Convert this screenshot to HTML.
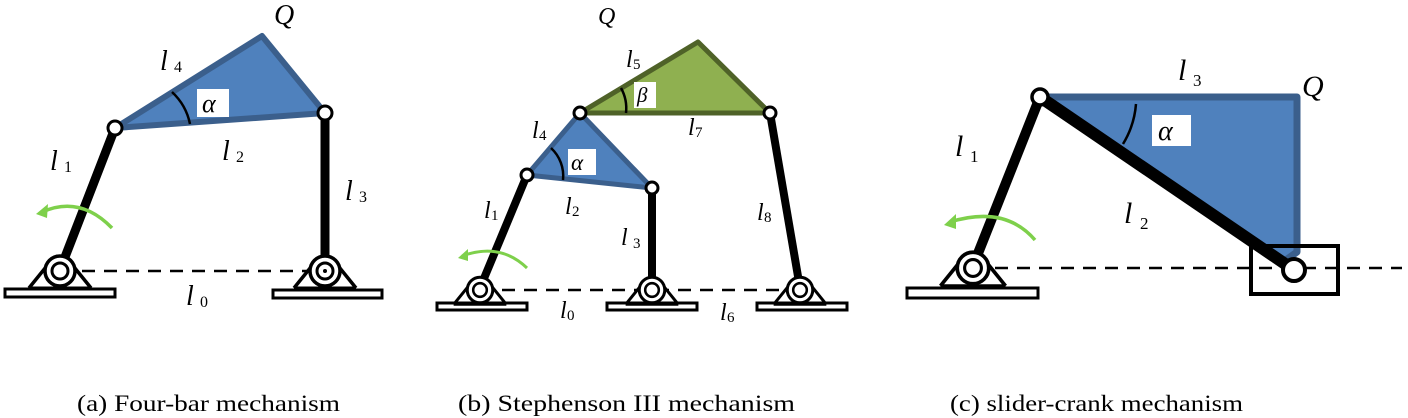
<!DOCTYPE html>
<html><head><meta charset="utf-8"><style>
html,body{margin:0;padding:0;background:#fff;}
svg{display:block}
svg text{font-family:"Liberation Serif","Times New Roman",Times,serif;}
</style></head><body>
<svg width="1408" height="418" viewBox="0 0 1408 418" xmlns="http://www.w3.org/2000/svg" font-family="Liberation Serif, Times New Roman, serif">
<defs>
<g id="piv">
  <path d="M-31,17 L-14,-4 M31,17 L14,-4" stroke="#000" stroke-width="3.5" fill="none"/>
  <path d="M-31,17 L31,17" stroke="#000" stroke-width="3"/>
  <circle r="15" fill="#fff" stroke="#000" stroke-width="3.5"/>
  <circle r="8" fill="#fff" stroke="#000" stroke-width="3"/>
</g>
</defs>
<g stroke="#000" stroke-width="2.5" stroke-dasharray="13,9" fill="none">
<line x1="60" y1="271" x2="325" y2="271"/>
<line x1="480" y1="290" x2="800" y2="290"/>
<line x1="973" y1="268" x2="1402" y2="268"/>
</g>
<!-- (a) -->
<polygon points="115,128 262,36 325,113" fill="#4f81bd" stroke="#3b5f8c" stroke-width="6" stroke-linejoin="round"/>
<path d="M172,92 A60,60 0 0 1 190,124" fill="none" stroke="#000" stroke-width="2.5"/>
<rect x="197" y="89" width="32" height="28" fill="#fff"/>
<text x="202" y="112" font-size="26" font-style="italic">α</text>
<line x1="60" y1="270" x2="115" y2="128" stroke="#000" stroke-width="9"/>
<line x1="325" y1="113" x2="325" y2="268" stroke="#000" stroke-width="9"/>
<rect x="5" y="289" width="110" height="8" fill="#fff" stroke="#000" stroke-width="3"/>
<rect x="273" y="290" width="109" height="8" fill="#fff" stroke="#000" stroke-width="3"/>
<use href="#piv" x="60" y="271"/>
<use href="#piv" x="325" y="271"/>
<circle cx="325" cy="271" r="2" fill="#000"/>
<circle cx="115" cy="128" r="7" fill="#fff" stroke="#000" stroke-width="3"/>
<circle cx="325" cy="113" r="7" fill="#fff" stroke="#000" stroke-width="3"/>
<path d="M112,228 Q80,195 42,212" fill="none" stroke="#7ed04b" stroke-width="3.5"/>
<path d="M36,214 L48,204 L47,218 Z" fill="#7ed04b"/>
<g font-style="italic" font-size="28">
<text x="160" y="70">l</text><text x="174" y="72" font-size="16" font-style="normal">4</text>
<text x="274" y="24">Q</text>
<text x="222" y="160">l</text><text x="236" y="162" font-size="16" font-style="normal">2</text>
<text x="50" y="170">l</text><text x="64" y="172" font-size="16" font-style="normal">1</text>
<text x="345" y="200">l</text><text x="359" y="202" font-size="16" font-style="normal">3</text>
<text x="186" y="305">l</text><text x="200" y="307" font-size="16" font-style="normal">0</text>
</g>
<!-- (b) -->
<polygon points="580,113 698,42 770,113" fill="#8fb050" stroke="#4f6228" stroke-width="5" stroke-linejoin="round"/>
<polygon points="527,175 580,113 652,188" fill="#4f81bd" stroke="#3b5f8c" stroke-width="5" stroke-linejoin="round"/>
<path d="M621,88 A42,42 0 0 1 626,113" fill="none" stroke="#000" stroke-width="2.5"/>
<rect x="634" y="82" width="22" height="26" fill="#fff"/>
<text x="637" y="102" font-size="21" font-style="italic">β</text>
<path d="M551,148 A38,38 0 0 1 563,180" fill="none" stroke="#000" stroke-width="2.5"/>
<rect x="568" y="149" width="28" height="26" fill="#fff"/>
<text x="571" y="170" font-size="23" font-style="italic">α</text>
<line x1="480" y1="288" x2="527" y2="175" stroke="#000" stroke-width="8"/>
<line x1="652" y1="188" x2="652" y2="288" stroke="#000" stroke-width="8"/>
<line x1="770" y1="113" x2="800" y2="288" stroke="#000" stroke-width="8"/>
<rect x="437" y="303" width="90" height="7" fill="#fff" stroke="#000" stroke-width="3"/>
<rect x="607" y="303" width="90" height="7" fill="#fff" stroke="#000" stroke-width="3"/>
<rect x="757" y="303" width="90" height="7" fill="#fff" stroke="#000" stroke-width="3"/>
<use href="#piv" transform="translate(480 290) scale(0.85)"/>
<use href="#piv" transform="translate(652 290) scale(0.85)"/>
<use href="#piv" transform="translate(800 290) scale(0.85)"/>
<circle cx="527" cy="175" r="6" fill="#fff" stroke="#000" stroke-width="3"/>
<circle cx="580" cy="113" r="6" fill="#fff" stroke="#000" stroke-width="3"/>
<circle cx="652" cy="188" r="6" fill="#fff" stroke="#000" stroke-width="3"/>
<circle cx="770" cy="113" r="6" fill="#fff" stroke="#000" stroke-width="3"/>
<path d="M527,268 Q500,242 462,256" fill="none" stroke="#7ed04b" stroke-width="3"/>
<path d="M458,258 L468,249 L468,261 Z" fill="#7ed04b"/>
<g font-style="italic" font-size="24">
<text x="598" y="24">Q</text>
<text x="626" y="67">l</text><text x="633" y="69" font-size="15" font-style="normal">5</text>
<text x="688" y="135">l</text><text x="695" y="137" font-size="15" font-style="normal">7</text>
<text x="532" y="138">l</text><text x="539" y="140" font-size="15" font-style="normal">4</text>
<text x="565" y="214">l</text><text x="572" y="216" font-size="15" font-style="normal">2</text>
<text x="484" y="218">l</text><text x="491" y="220" font-size="15" font-style="normal">1</text>
<text x="621" y="245">l</text><text x="633" y="248" font-size="15" font-style="normal">3</text>
<text x="757" y="220">l</text><text x="764" y="222" font-size="15" font-style="normal">8</text>
<text x="560" y="318">l</text><text x="567" y="320" font-size="15" font-style="normal">0</text>
<text x="720" y="320">l</text><text x="727" y="322" font-size="15" font-style="normal">6</text>
</g>
<!-- (c) -->
<polygon points="1040,97 1297,97 1297,252 1283,262" fill="#4f81bd" stroke="#3b5f8c" stroke-width="7" stroke-linejoin="round"/>
<path d="M1136,104 A90,90 0 0 1 1123,144" fill="none" stroke="#000" stroke-width="2.5"/>
<rect x="1152" y="115" width="39" height="31" fill="#fff"/>
<text x="1158" y="140" font-size="28" font-style="italic">α</text>
<rect x="1251" y="246" width="87" height="48" fill="none" stroke="#000" stroke-width="4"/>
<line x1="1040" y1="97" x2="1294" y2="270" stroke="#000" stroke-width="12"/>
<line x1="973" y1="266" x2="1040" y2="97" stroke="#000" stroke-width="10"/>
<rect x="907" y="288" width="131" height="10" fill="#fff" stroke="#000" stroke-width="3"/>
<use href="#piv" transform="translate(973 268) scale(1.05)"/>
<circle cx="1040" cy="97" r="8" fill="#fff" stroke="#000" stroke-width="3.5"/>
<circle cx="1294" cy="270" r="11" fill="#fff" stroke="#000" stroke-width="4"/>
<path d="M1035,240 Q1005,205 950,222" fill="none" stroke="#7ed04b" stroke-width="3.5"/>
<path d="M944,225 L956,214 L956,229 Z" fill="#7ed04b"/>
<g font-style="italic" font-size="30">
<text x="1178" y="80">l</text><text x="1193" y="86" font-size="17" font-style="normal">3</text>
<text x="1302" y="96">Q</text>
<text x="955" y="156">l</text><text x="970" y="162" font-size="17" font-style="normal">1</text>
<text x="1124" y="223">l</text><text x="1140" y="229" font-size="17" font-style="normal">2</text>
</g>
<!-- captions -->
<g font-size="23">
<text x="77" y="411" textLength="263" lengthAdjust="spacingAndGlyphs">(a)  Four-bar mechanism</text>
<text x="458" y="411" textLength="337" lengthAdjust="spacingAndGlyphs">(b)    Stephenson III mechanism</text>
<text x="950" y="411" textLength="293" lengthAdjust="spacingAndGlyphs">(c) slider-crank mechanism</text>
</g>
</svg>
</body></html>
